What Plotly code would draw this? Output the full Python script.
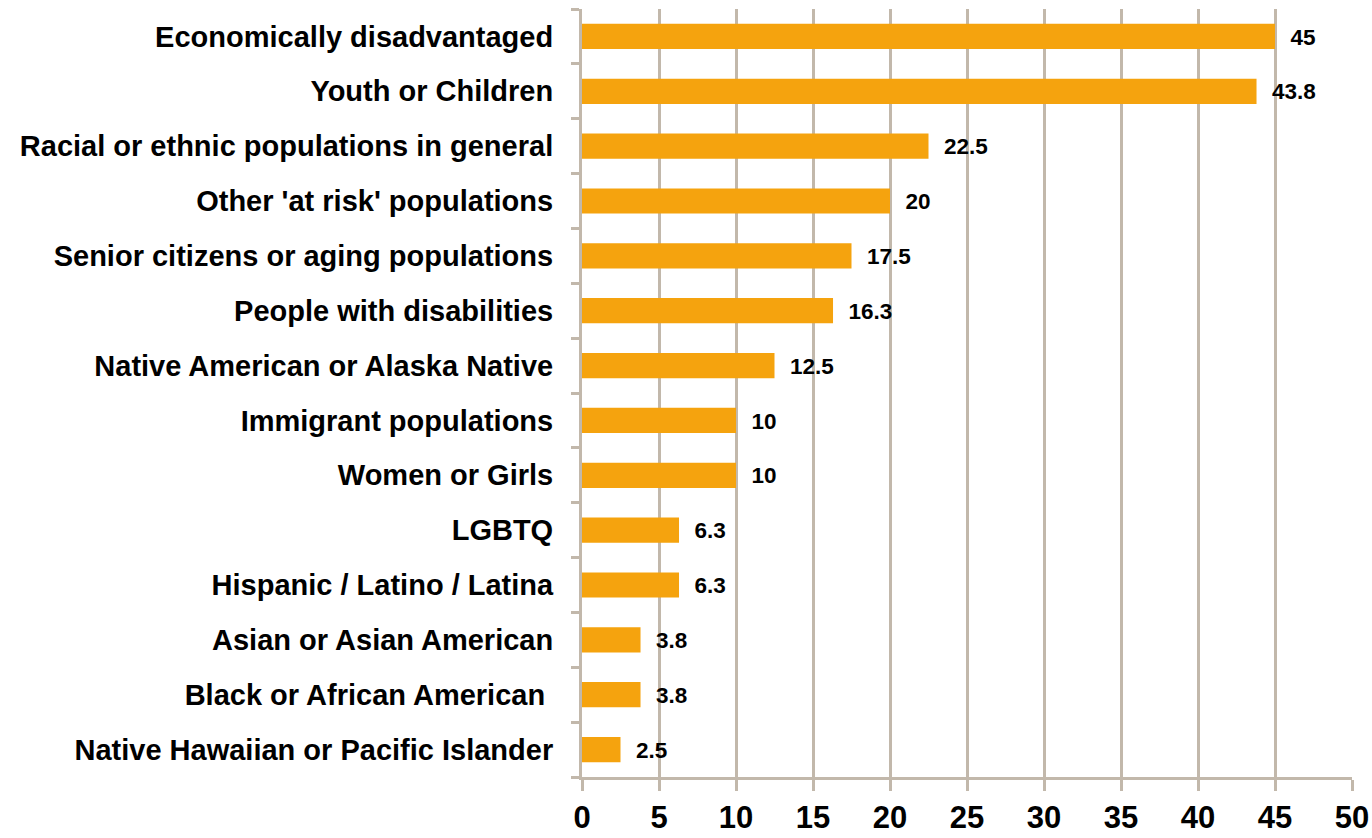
import plotly.graph_objects as go

categories = [
    "Economically disadvantaged",
    "Youth or Children",
    "Racial or ethnic populations in general",
    "Other 'at risk' populations",
    "Senior citizens or aging populations",
    "People with disabilities",
    "Native American or Alaska Native",
    "Immigrant populations",
    "Women or Girls",
    "LGBTQ",
    "Hispanic / Latino / Latina",
    "Asian or Asian American",
    "Black or African American ",
    "Native Hawaiian or Pacific Islander",
]
values = [45, 43.8, 22.5, 20, 17.5, 16.3, 12.5, 10, 10, 6.3, 6.3, 3.8, 3.8, 2.5]
value_labels = ["45", "43.8", "22.5", "20", "17.5", "16.3", "12.5", "10", "10", "6.3", "6.3", "3.8", "3.8", "2.5"]
x_ticks = [0, 5, 10, 15, 20, 25, 30, 35, 40, 45, 50]

GRID = "#C2B8AB"
BAR = "#F5A30E"
FONT = "Liberation Sans"

fig = go.Figure(
    go.Bar(
        x=values,
        y=categories,
        orientation="h",
        marker=dict(color=BAR, line=dict(width=0)),
        text=["  " + t for t in value_labels],
        textposition="outside",
        textfont=dict(family=FONT, size=25, color="black", weight="bold"),
        cliponaxis=False,
    )
)

fig.update_layout(
    width=1372,
    height=838,
    margin=dict(l=582, r=20, t=9, b=61),
    plot_bgcolor="white",
    paper_bgcolor="white",
    bargap=0.54,
    showlegend=False,
    font=dict(family=FONT, color="black"),
)

fig.update_xaxes(
    range=[0, 50],
    tickvals=x_ticks,
    ticktext=[str(v) for v in x_ticks],
    showgrid=True,
    gridcolor=GRID,
    gridwidth=3,
    showline=True,
    linecolor=GRID,
    linewidth=3,
    ticks="outside",
    ticklen=11,
    tickwidth=3,
    tickcolor=GRID,
    tickfont=dict(family=FONT, size=31, color="black", weight="bold"),
    zeroline=False,
    automargin=False,
)

fig.update_yaxes(
    categoryorder="array",
    categoryarray=categories[::-1],
    autorange=False,
    range=[-0.5, len(categories) - 0.5],
    showline=True,
    linecolor=GRID,
    linewidth=3,
    ticks="outside",
    tickson="boundaries",
    ticklen=8,
    tickwidth=3,
    tickcolor=GRID,
    ticklabelstandoff=20,
    showgrid=False,
    tickfont=dict(family=FONT, size=29, color="black", weight="bold"),
    automargin=False,
)

# remove the default 8px page margin so the figure fills the window exactly
fig.write_html(
    "out.html",
    config={"displayModeBar": False},
    post_script="document.body.style.margin='0';document.body.style.overflow='hidden';",
)
